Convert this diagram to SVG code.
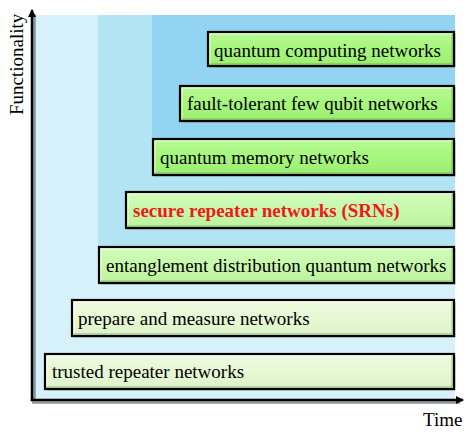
<svg xmlns="http://www.w3.org/2000/svg" width="474" height="432" viewBox="0 0 474 432">
<defs>
<linearGradient id="gDark" x1="0" y1="0" x2="0" y2="1">
<stop offset="0" stop-color="#b8f996"/><stop offset="0.5" stop-color="#a6f67c"/><stop offset="1" stop-color="#9cef72"/>
</linearGradient>
<linearGradient id="gMid" x1="0" y1="0" x2="0" y2="1">
<stop offset="0" stop-color="#d2fbbb"/><stop offset="0.5" stop-color="#c6f9aa"/><stop offset="1" stop-color="#bdf29f"/>
</linearGradient>
<linearGradient id="gLight" x1="0" y1="0" x2="0" y2="1">
<stop offset="0" stop-color="#eefbe2"/><stop offset="0.5" stop-color="#e6f8d4"/><stop offset="1" stop-color="#dcf2c8"/>
</linearGradient>
<marker id="arr" markerWidth="10" markerHeight="10" refX="7" refY="4" orient="auto" markerUnits="userSpaceOnUse" viewBox="0 0 10 8">
<path d="M0,0 L8,4 L0,8 z" fill="#000"/>
</marker>
</defs>
<style>
.box{stroke:#000;stroke-width:2.2}
.sh{fill:#6b7a70;opacity:0.55}
.hl{stroke:#ffffff;stroke-opacity:0.7;stroke-width:1;fill:none}
.dk{stroke:#3f7a2a;stroke-opacity:0.45;stroke-width:1;fill:none}
.t{font-family:"Liberation Serif","Times New Roman",serif;font-size:19px;fill:#000}
.red{fill:#f01818;font-weight:bold}
.ax{stroke:#000;stroke-width:2.5;fill:none}
.axs{stroke:#5d6b73;stroke-width:2.5;fill:none;opacity:0.7}
</style>
<rect width="474" height="432" fill="#fff"/>
<g id="background">
<rect x="33" y="15" width="422" height="385" fill="#d6f1fa"/>
<rect x="98" y="15" width="357" height="268" fill="#b3e4f4"/>
<rect x="152" y="15" width="303" height="142" fill="#92d4f2"/>
</g>
<g id="axes">
<line class="axs" x1="34.5" y1="401" x2="34.5" y2="14"/>
<line class="axs" x1="32" y1="402.5" x2="460" y2="402.5"/>
<line class="ax" x1="32" y1="401" x2="32" y2="10" marker-end="url(#arr)"/>
<line class="ax" x1="30.8" y1="400" x2="463" y2="400" marker-end="url(#arr)"/>
<text class="t" transform="translate(22.5,115) rotate(-90)">Functionality</text>
<text class="t" x="423" y="426">Time</text>
</g>
<g id="n1">
<rect class="sh" x="209.5" y="33.5" width="246" height="34"/>
<rect class="box" x="208" y="32" width="246" height="34" fill="url(#gDark)"/>
<path class="hl" d="M210,64 V34 H452"/><path class="dk" d="M210,64 H452 V34"/>
<text class="t" x="214" y="56.5">quantum computing networks</text>
</g>
<g id="n2">
<rect class="sh" x="181.5" y="87.5" width="274" height="35"/>
<rect class="box" x="180" y="86" width="274" height="35" fill="url(#gDark)"/>
<path class="hl" d="M182,119 V88 H452"/><path class="dk" d="M182,119 H452 V88"/>
<text class="t" x="187" y="110">fault-tolerant few qubit networks</text>
</g>
<g id="n3">
<rect class="sh" x="154.5" y="140.5" width="301" height="36"/>
<rect class="box" x="153" y="139" width="301" height="36" fill="url(#gDark)"/>
<path class="hl" d="M155,173 V141 H452"/><path class="dk" d="M155,173 H452 V141"/>
<text class="t" x="160" y="164">quantum memory networks</text>
</g>
<g id="n4">
<rect class="sh" x="127.5" y="193.5" width="328" height="36"/>
<rect class="box" x="126" y="192" width="328" height="36" fill="url(#gMid)"/>
<path class="hl" d="M128,226 V194 H452"/><path class="dk" d="M128,226 H452 V194"/>
<text class="t red" x="133" y="217">secure repeater networks (SRNs)</text>
</g>
<g id="n5">
<rect class="sh" x="100.5" y="248.5" width="355" height="36"/>
<rect class="box" x="99" y="247" width="355" height="36" fill="url(#gMid)"/>
<path class="hl" d="M101,281 V249 H452"/><path class="dk" d="M101,281 H452 V249"/>
<text class="t" x="106" y="271.5">entanglement distribution quantum networks</text>
</g>
<g id="n6">
<rect class="sh" x="73.5" y="301.5" width="382" height="36"/>
<rect class="box" x="72" y="300" width="382" height="36" fill="url(#gLight)"/>
<path class="hl" d="M74,334 V302 H452"/><path class="dk" d="M74,334 H452 V302"/>
<text class="t" x="78" y="325">prepare and measure networks</text>
</g>
<g id="n7">
<rect class="sh" x="46.5" y="355.5" width="409" height="35"/>
<rect class="box" x="45" y="354" width="409" height="35" fill="url(#gLight)"/>
<path class="hl" d="M47,387 V356 H452"/><path class="dk" d="M47,387 H452 V356"/>
<text class="t" x="52" y="378">trusted repeater networks</text>
</g>
</svg>
